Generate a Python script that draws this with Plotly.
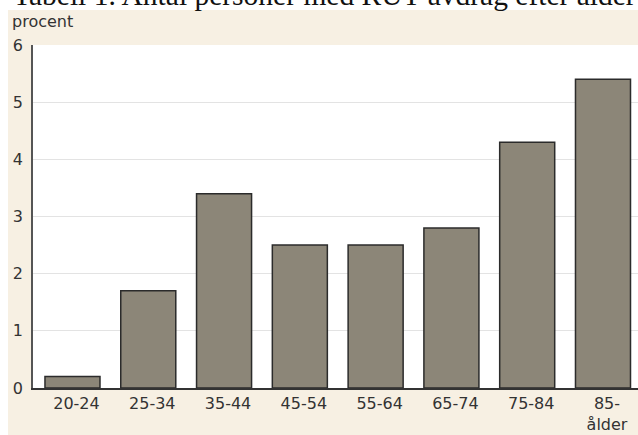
import plotly.graph_objects as go

categories = ["20-24", "25-34", "35-44", "45-54", "55-64", "65-74", "75-84", "85-"]
tick_labels = ["20-24", "25-34", "35-44", "45-54", "55-64", "65-74", "75-84", "85-<br>ålder"]
values = [0.2, 1.7, 3.4, 2.5, 2.5, 2.8, 4.3, 5.4]
y_ticks = [0, 1, 2, 3, 4, 5, 6]

W, H = 638, 435
L, R, T, B = 33, 0, 45, 47
PW, PH = W - L - R, H - T - B

def px_x(p):
    return (p - L) / PW

def px_y(p):
    return (H - B - p) / PH

TICKFONT = dict(family="DejaVu Sans", size=16, color="#333333")

fig = go.Figure(
    go.Bar(
        x=categories,
        y=values,
        marker=dict(color="#8C8678", line=dict(color="#2B2B2B", width=1.5)),
        hoverinfo="skip",
    )
)

fig.update_layout(
    width=W,
    height=H,
    margin=dict(l=L, r=R, t=T, b=B, autoexpand=False),
    paper_bgcolor="#F7F0E3",
    plot_bgcolor="white",
    bargap=0.274,
    showlegend=False,
    xaxis=dict(
        type="category",
        range=[-0.521, 7.462],
        tickmode="array",
        tickvals=categories,
        ticktext=tick_labels,
        tickfont=TICKFONT,
        ticks="",
        ticklabelshift=4,
        showgrid=False,
        showline=True,
        linecolor="#333333",
        linewidth=1.5,
        automargin=False,
        fixedrange=True,
    ),
    yaxis=dict(
        range=[0, 6],
        tickmode="array",
        tickvals=y_ticks,
        ticktext=[str(v) for v in y_ticks],
        tickfont=TICKFONT,
        ticks="",
        ticklabelstandoff=5,
        showgrid=True,
        gridcolor="#E3E3E3",
        gridwidth=1,
        zeroline=False,
        showline=True,
        linecolor="#555555",
        linewidth=1.5,
        automargin=False,
        fixedrange=True,
    ),
    shapes=[
        dict(type="rect", xref="paper", yref="paper",
             x0=px_x(0), x1=px_x(W), y0=px_y(10), y1=px_y(0) + 0.05,
             fillcolor="white", line=dict(width=0), layer="below"),
        dict(type="rect", xref="paper", yref="paper",
             x0=px_x(0) - 0.05, x1=px_x(8), y0=px_y(H) - 0.05, y1=px_y(0) + 0.05,
             fillcolor="white", line=dict(width=0), layer="below"),
    ],
    annotations=[
        dict(text="Tabell 1. Antal personer med RUT-avdrag efter ålder",
             xref="paper", yref="paper", x=px_x(11), y=px_y(-5),
             xanchor="left", yanchor="middle", showarrow=False,
             font=dict(family="Liberation Serif", size=29.5, color="#111111")),
        dict(text="procent",
             xref="paper", yref="paper", x=px_x(10), y=px_y(21),
             xanchor="left", yanchor="middle", showarrow=False,
             font=TICKFONT),
    ],
)

fig.write_html(
    "out.html",
    config={"displayModeBar": False},
    post_script="document.body.style.margin='0';document.body.style.padding='0';",
)
